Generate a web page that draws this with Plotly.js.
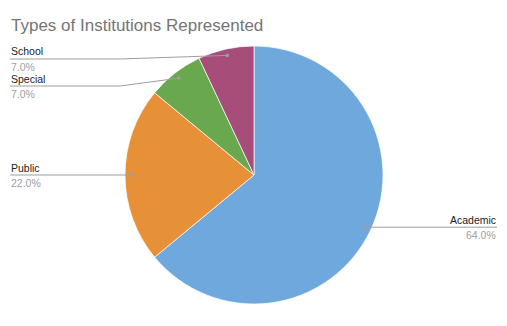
<!DOCTYPE html>
<html><head><meta charset="utf-8">
<script src="https://cdn.plot.ly/plotly-3.0.1.min.js"></script>
<style>html,body{margin:0;padding:0;background:#fff;}#chart{width:507px;height:326px;}</style>
</head><body><div id="chart"></div>
<script>
const categories = ["Academic", "Public", "Special", "School"];
const values = [64, 22, 7, 7];
const colors = ["#6fa8dc", "#e69138", "#6aa84f", "#a64d79"];

const W = 507, H = 326;
const CX = 254, CY = 175, R = 129;
const px = x => x / W, py = y => 1 - y / H;
const FONT = "Liberation Sans, Arial, sans-serif";

// label layout (pixel): side, text x, horizontal line y, bend x
const labelLayout = {
  "Academic": {side: "right", tx: 497, ly: null, bend: null},
  "Public":   {side: "left",  tx: 10,  ly: null, bend: null},
  "Special":  {side: "left",  tx: 10,  ly: 86,  bend: 120},
  "School":   {side: "left",  tx: 10,  ly: 59,  bend: 120}
};

const total = values.reduce((a, b) => a + b, 0);
const shapes = [], annotations = [];
let cum = 0;
categories.forEach((c, i) => {
  const frac = values[i] / total;
  const mid = (cum + frac / 2) * 2 * Math.PI;
  cum += frac;
  const dx = CX + 0.95 * R * Math.sin(mid);
  const dy = CY - 0.95 * R * Math.cos(mid);
  const L = labelLayout[c];
  const ly = L.ly === null ? dy : L.ly;
  let path;
  if (L.bend !== null) {
    path = `M ${px(L.tx)} ${py(ly)} L ${px(L.bend)} ${py(ly)} L ${px(dx)} ${py(dy)}`;
  } else {
    path = `M ${px(L.tx)} ${py(ly)} L ${px(dx)} ${py(dy)}`;
  }
  shapes.push({type: "path", xref: "paper", yref: "paper", path: path,
    line: {color: "#9e9e9e", width: 1}});
  shapes.push({type: "circle", xref: "paper", yref: "paper",
    x0: px(dx - 1.8), x1: px(dx + 1.8), y0: py(dy + 1.8), y1: py(dy - 1.8),
    fillcolor: "#9e9e9e", line: {width: 0}});
  const xa = L.side === "right" ? "right" : "left";
  annotations.push({xref: "paper", yref: "paper", x: px(L.tx - (xa === "left" ? 1 : -1)), y: py(ly - 7.5),
    xanchor: xa, yanchor: "middle", showarrow: false, text: c,
    font: {family: FONT, size: 10.5, color: "#222222"}});
  annotations.push({xref: "paper", yref: "paper", x: px(L.tx - (xa === "left" ? 1 : -1)), y: py(ly + 7.5),
    xanchor: xa, yanchor: "middle", showarrow: false,
    text: (values[i] / total * 100).toFixed(1) + "%",
    font: {family: FONT, size: 10.5, color: "#9e9e9e"}});
});

annotations.push({xref: "paper", yref: "paper", x: px(9), y: py(25),
  xanchor: "left", yanchor: "middle", showarrow: false,
  text: "Types of Institutions Represented",
  font: {family: FONT, size: 17, color: "#757575"}});

const trace = {
  type: "pie", labels: categories, values: values, sort: false,
  direction: "clockwise", rotation: 0, textinfo: "none", hoverinfo: "label+percent",
  marker: {colors: colors, line: {color: "#ffffff", width: 0.7}},
  domain: {x: [px(CX - R), px(CX + R)], y: [py(CY + R), py(CY - R)]},
  showlegend: false
};

Plotly.newPlot("chart", [trace], {
  width: W, height: H, margin: {l: 0, r: 0, t: 0, b: 0},
  paper_bgcolor: "#ffffff", showlegend: false,
  shapes: shapes, annotations: annotations
}, {displayModeBar: false, staticPlot: true});
</script></body></html>
